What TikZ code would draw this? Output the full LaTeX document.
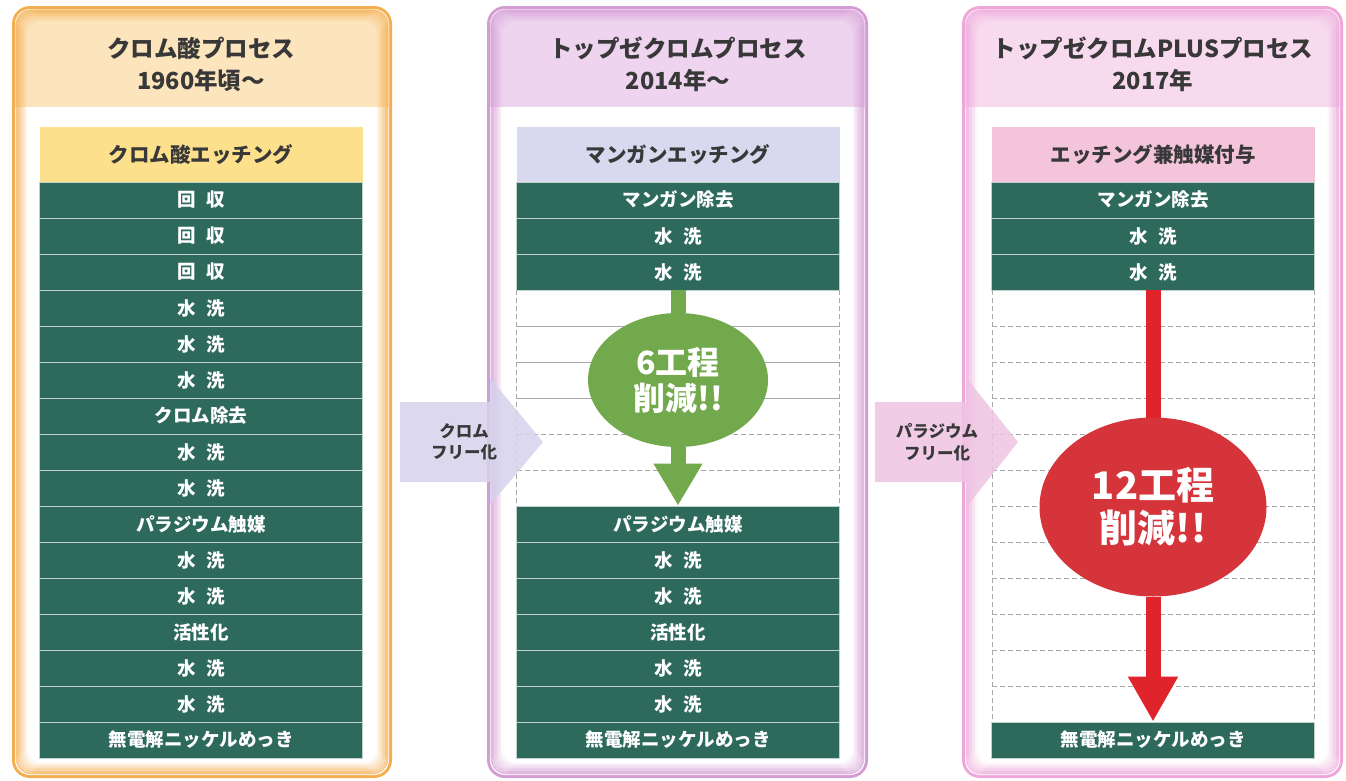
\documentclass[tikz,border=0pt]{standalone}
\usepackage{fontspec}
\setmainfont{Noto Sans CJK JP}
\usetikzlibrary{shapes.geometric,arrows.meta}
\definecolor{rowg}{HTML}{2E6A5C}
\definecolor{orB}{HTML}{F4AE50}
\definecolor{orH}{HTML}{FCE4BC}
\definecolor{orR}{HTML}{FDE08C}
\definecolor{puB}{HTML}{D49CD4}
\definecolor{puH}{HTML}{EED4EE}
\definecolor{puR}{HTML}{D8D8EE}
\definecolor{piB}{HTML}{EEA6DA}
\definecolor{piH}{HTML}{F8DAEF}
\definecolor{piR}{HTML}{F4C4DA}
\definecolor{txt}{HTML}{383838}
\definecolor{grn}{HTML}{72A94C}
\definecolor{rdA}{HTML}{E0242C}
\definecolor{rdE}{HTML}{D4343A}
\definecolor{arP}{HTML}{D6D2EC}
\definecolor{arK}{HTML}{EEC4E2}
\definecolor{gridc}{HTML}{A8A8A8}

\newcommand\wgap{\hspace{0.55em}}
\newcommand\mypanel[4]{%
  \fill[#3, rounded corners=18pt] (#1,6) rectangle (#2,778);
  \begin{scope}
    \clip[rounded corners=15pt] ({#1+3},9) rectangle ({#2-3},775);
    \fill[white] (#1,6) rectangle (#2,778);
    \fill[#4] (#1,6) rectangle (#2,107);
    \foreach \k in {1,...,8} {
      \pgfmathsetmacro\op{0.8-0.095*\k}
      \draw[#3, line width=1.6pt, opacity=\op, rounded corners=15pt]
        ({#1+3+1.5*\k},{9+1.5*\k}) rectangle ({#2-3-1.5*\k},{775-1.5*\k});
    }
  \end{scope}
}

\begin{document}
\begin{tikzpicture}[x=1pt,y=-1pt,
  rowbox/.style={fill=rowg, draw=white!70!rowg, line width=0.8pt,
    minimum width=323pt, minimum height=36pt, inner sep=0pt, text=white,
    font=\bfseries\fontsize{18.5}{18.5}\selectfont},
  headbox/.style={minimum width=323pt, minimum height=55pt, inner sep=0pt,
    text=txt, font=\bfseries\fontsize{20.5}{20.5}\selectfont},
  titlebox/.style={align=center, text=txt, inner sep=0pt,
    font=\bfseries\fontsize{23.5}{32}\selectfont},
  gridline/.style={gridc, line width=0.7pt, dash pattern=on 5pt off 3pt},
  sidelabel/.style={align=center, text=txt, inner sep=0pt,
    font=\bfseries\fontsize{16.5}{21.5}\selectfont},
  cutlabel/.style={ellipse, inner sep=0pt, text=white, align=center}
]
\useasboundingbox (0,0) rectangle (1346,780);
\fill[white] (0,0) rectangle (1346,780);

\mypanel{12}{392}{orB}{orH}
\mypanel{487}{868}{puB}{puH}
\mypanel{962}{1343}{piB}{piH}

% titles
\node[titlebox] (t1) at (201,64) {クロム酸プロセス\\1960年頃〜};
\node[titlebox] (t2) at (678,64) {トップゼクロムプロセス\\2014年〜};
\node[titlebox] (t3) at (1153,64) {トップゼクロムPLUSプロセス\\2017年};

% column 1
\node[headbox, fill=orR] (h1) at (201,154.5) {クロム酸エッチング};
\foreach \t [count=\i from 0] in {回\wgap 収,回\wgap 収,回\wgap 収,水\wgap 洗,水\wgap 洗,水\wgap 洗,クロム除去,水\wgap 洗,水\wgap 洗,パラジウム触媒,水\wgap 洗,水\wgap 洗,活性化,水\wgap 洗,水\wgap 洗,無電解ニッケルめっき}
  \node[rowbox] (a\i) at (201,{200+36*\i}) {\t};

% column 2
\node[headbox, fill=puR] (h2) at (678,154.5) {マンガンエッチング};
\foreach \t [count=\i from 0] in {マンガン除去,水\wgap 洗,水\wgap 洗}
  \node[rowbox] (b\i) at (678,{200+36*\i}) {\t};
\foreach \t [count=\i from 9] in {パラジウム触媒,水\wgap 洗,水\wgap 洗,活性化,水\wgap 洗,水\wgap 洗,無電解ニッケルめっき}
  \node[rowbox] (b\i) at (678,{200+36*\i}) {\t};
\draw[gridline] (516.5,290) -- (516.5,506);
\draw[gridline] (839.5,290) -- (839.5,506);
\foreach \yy in {326,362,398}
  \draw[gridc, line width=0.7pt] (516.5,\yy) -- (839.5,\yy);
\foreach \yy in {434,470}
  \draw[gridline] (516.5,\yy) -- (839.5,\yy);

% column 3
\node[headbox, fill=piR] (h3) at (1153,154.5) {エッチング兼触媒付与};
\foreach \t [count=\i from 0] in {マンガン除去,水\wgap 洗,水\wgap 洗}
  \node[rowbox] (c\i) at (1153,{200+36*\i}) {\t};
\node[rowbox] (c15) at (1153,740) {無電解ニッケルめっき};
\draw[gridline] (992,290) -- (992,722);
\draw[gridline] (1314,290) -- (1314,722);
\foreach \k in {1,...,11}
  \draw[gridline] (992,{290+36*\k}) -- (1314,{290+36*\k});

% green reduction arrow
\node[cutlabel, fill=grn, minimum width=180pt, minimum height=134pt,
  font=\bfseries\fontsize{32}{36}\selectfont] (g) at (678,380) {6工程\\削減!!};
\draw[grn, line width=15pt] (b2.south) -- (g.north);
\draw[grn, line width=15pt, -{Triangle[width=46pt,length=42pt]}] (g.south) -- (b9.north);

% red reduction arrow
\draw[rdA, line width=15pt] (c2.south) -- (1153,430);
\node[cutlabel, fill=rdE, minimum width=227pt, minimum height=179pt,
  font=\bfseries\fontsize{38}{43}\selectfont] (r) at (1153,507) {12工程\\削減!!};
\draw[rdA, line width=15pt, -{Triangle[width=47pt,length=45pt]}] (r.south) -- (c15.north);

% side arrows
\fill[arP, fill opacity=0.85] (400,402) -- (490,402) -- (490,378) -- (543,442)
  -- (490,505) -- (490,482) -- (400,482) -- cycle;
\node[sidelabel] (s1) at (464,442) {クロム\\フリー化};
\fill[arK, fill opacity=0.85] (875,402) -- (968,402) -- (968,380) -- (1018,442)
  -- (968,505) -- (968,482) -- (875,482) -- cycle;
\node[sidelabel] (s2) at (937,442) {パラジウム\\フリー化};
\end{tikzpicture}
\end{document}
